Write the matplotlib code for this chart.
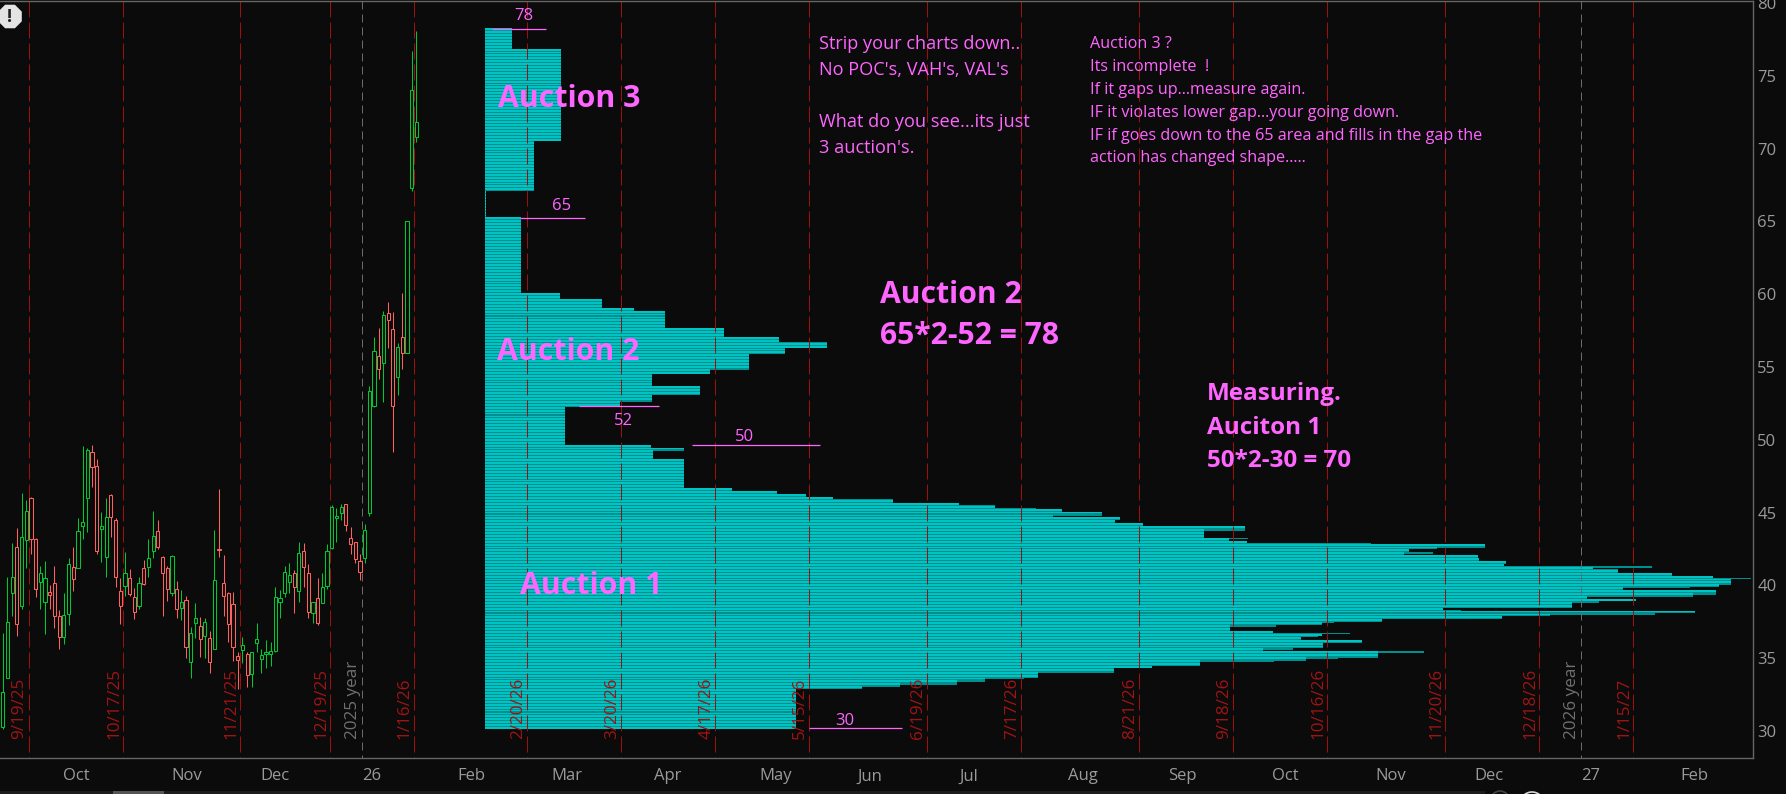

import matplotlib
matplotlib.use("Agg")
import matplotlib.pyplot as plt
import numpy as np
from matplotlib.patches import RegularPolygon, Rectangle, Circle

plt.rcParams['font.family'] = ['Open Sans', 'DejaVu Sans']

W, H = 1786, 794
BG = '#0b0b0b'
GRID = '#666666'
PINK = '#ff66ff'
PX_BAR = 4.7  # pixels per bar

# candles, in order, bar -5.5 is the first one
candle_open = [30.27, 33.62, 39.45, 42.66, 38.61, 43.12, 45.98, 43.21, 40.25, 38.84, 39.52, 40.14, 37.9, 36.48, 38.01, 41.29, 41.17, 44.1, 45.98, 49.14, 48.18, 43.9, 41.97, 46.19, 44.47, 39.64, 39.98, 40.53, 39.18, 38.61, 41.17, 41.29, 42.38, 43.71, 41.93, 41.17, 39.45, 39.73, 38.42, 38.97, 34.76, 37.44, 37.21, 36.52, 36.36, 35.61, 42.48, 40.14, 39.45, 38.7, 35.13, 35.58, 35.26, 33.89, 36.02, 34.97, 35.31, 35.31, 35.49, 38.88, 39.5, 40.25, 40.83, 39.64, 42.34, 40.83, 38.13, 39.11, 38.77, 39.98, 42.54, 44.65, 44.99, 45.57, 43.23, 42.96, 41.7, 41.86, 45.0, 52.35, 55.76, 55.3, 58.68, 57.58, 54.34, 57.03, 55.94, 67.33, 70.77]
candle_high = [36.73, 40.55, 42.89, 43.92, 46.33, 45.87, 46.05, 43.23, 41.33, 41.67, 40.03, 41.33, 38.31, 39.45, 41.86, 42.61, 44.61, 49.58, 49.42, 49.64, 48.66, 45.02, 45.98, 46.25, 44.65, 40.48, 42.27, 41.1, 39.8, 40.6, 41.74, 43.16, 45.09, 44.49, 42.02, 41.33, 42.06, 40.3, 39.68, 39.27, 37.12, 38.77, 37.85, 37.74, 36.89, 43.8, 46.6, 42.09, 39.57, 39.52, 35.45, 36.43, 35.45, 35.45, 37.39, 35.63, 36.25, 36.09, 39.87, 39.68, 41.33, 41.51, 41.06, 42.96, 42.89, 41.47, 38.88, 40.48, 40.83, 42.82, 45.52, 45.29, 45.57, 45.57, 44.03, 42.96, 42.16, 44.22, 53.7, 57.03, 57.65, 58.86, 59.48, 58.79, 56.62, 60.05, 65.04, 76.7, 78.09]
candle_low = [30.14, 33.62, 37.92, 36.55, 38.38, 41.17, 42.16, 39.23, 38.38, 36.66, 38.38, 37.07, 35.63, 35.97, 37.28, 39.64, 41.17, 43.19, 43.69, 46.74, 42.16, 41.63, 40.6, 43.35, 39.91, 37.35, 39.29, 39.29, 37.71, 38.38, 40.05, 40.6, 41.9, 42.5, 37.92, 38.95, 39.29, 37.78, 37.62, 35.03, 33.66, 36.41, 35.06, 34.99, 34.0, 35.61, 41.97, 37.92, 36.13, 34.83, 32.88, 34.69, 33.04, 33.04, 35.45, 34.0, 34.35, 34.46, 35.45, 37.74, 39.23, 39.45, 38.13, 38.88, 39.87, 37.78, 37.39, 37.28, 38.77, 39.77, 42.5, 43.0, 44.49, 43.74, 42.16, 41.56, 40.37, 41.56, 44.79, 52.23, 54.15, 52.62, 56.32, 49.19, 53.08, 54.84, 55.94, 67.1, 70.47]
candle_close = [32.68, 37.46, 40.6, 37.33, 43.3, 45.09, 43.21, 39.73, 40.83, 40.48, 39.36, 37.9, 36.48, 37.94, 41.45, 40.41, 43.71, 44.38, 49.28, 48.16, 42.36, 44.1, 44.67, 44.72, 40.6, 38.61, 40.83, 39.38, 38.19, 40.14, 40.12, 41.86, 43.37, 42.66, 40.83, 39.73, 41.99, 38.4, 38.84, 35.79, 36.71, 37.74, 36.29, 37.46, 34.71, 40.35, 42.41, 39.29, 37.33, 35.74, 34.9, 35.88, 33.87, 35.45, 36.34, 35.19, 35.4, 35.52, 39.18, 39.11, 40.9, 40.69, 39.87, 42.2, 41.29, 38.19, 38.84, 37.42, 39.87, 42.34, 45.36, 44.79, 45.36, 44.17, 42.82, 41.79, 40.94, 43.83, 53.33, 56.12, 54.84, 58.56, 58.22, 52.35, 56.39, 55.94, 65.04, 74.0, 71.84]

# volume profile, top of each block going down and its volume
profile_tops = [78.15, 76.77, 70.52, 67.09, 65.16, 60.08, 59.60, 58.98, 58.85, 57.68, 57.06, 56.72, 56.30, 55.89, 54.79, 54.52, 53.70, 53.08, 52.60, 52.25, 49.64, 49.44, 49.23, 48.68, 46.62, 46.41, 46.28, 46.07, 46.00, 45.93, 45.66, 45.59, 45.52, 45.32, 45.18, 45.04, 44.77, 44.70, 44.49, 44.22, 44.08, 44.01, 43.74, 43.26, 43.19, 43.05, 42.91, 42.84, 42.77, 42.57, 42.50, 42.29, 42.16, 42.09, 42.02, 41.88, 41.74, 41.61, 41.47, 41.33, 41.19, 41.13, 41.06, 40.85, 40.78, 40.65, 40.58, 40.51, 40.44, 40.37, 40.03, 39.89, 39.82, 39.68, 39.55, 39.34, 39.20, 39.07, 38.93, 38.79, 38.45, 38.31, 38.24, 38.13, 37.97, 37.90, 37.81, 37.67, 37.49, 37.42, 37.28, 37.14, 36.87, 36.73, 36.66, 36.52, 36.46, 36.25, 36.18, 36.04, 35.70, 35.56, 35.49, 35.36, 35.01, 34.95, 34.81, 34.74, 34.46, 34.33, 33.98, 33.64, 33.57, 33.36, 33.16, 33.02, 32.88]
profile_vols = [27, 76, 49, 1, 36, 75, 117, 149, 180, 239, 294, 342, 300, 264, 225, 167, 215, 167, 135, 80, 166, 199, 168, 199, 247, 292, 321, 332, 348, 408, 439, 474, 510, 551, 577, 617, 568, 635, 630, 658, 683, 760, 719, 763, 744, 762, 886, 977, 1000, 952, 924, 948, 919, 967, 993, 959, 994, 1021, 1019, 1167, 1108, 1133, 1133, 1160, 1187, 1208, 1228, 1266, 1228, 1246, 1234, 1205, 1138, 1187, 1231, 1208, 1102, 1151, 1114, 1087, 958, 976, 1210, 1170, 1065, 985, 1017, 897, 849, 837, 791, 745, 788, 865, 837, 833, 816, 854, 877, 838, 808, 778, 939, 893, 853, 821, 789, 715, 667, 629, 553, 539, 500, 472, 415, 377, 311]
profile_floor = 30.14
profile_start = 97.1  # bar where the profile begins

expiry_x = [0, 20.1, 45, 64.2, 82, 106.1, 126.1, 146.1, 166.1, 191.2, 211.2, 236.3, 256.3, 276.3, 301.4, 321.4, 341.4]
expiry_labels = ['9/19/25', '10/17/25', '11/21/25', '12/19/25', '1/16/26', '2/20/26', '3/20/26', '4/17/26', '5/15/26', '6/19/26', '7/17/26', '8/21/26', '9/18/26', '10/16/26', '11/20/26', '12/18/26', '1/15/27']
year_x = [71, 330.4]
year_labels = ['2025 year', '2026 year']

month_x = [10.1, 33.7, 52.4, 73.1, 94.3, 114.5, 136, 159, 179, 200, 224.3, 245.4, 267.3, 289.9, 310.7, 332.4, 354.5]
month_labels = ['Oct', 'Nov', 'Dec', '26', 'Feb', 'Mar', 'Apr', 'May', 'Jun', 'Jul', 'Aug', 'Sep', 'Oct', 'Nov', 'Dec', '27', 'Feb']
price_ticks = [30, 35, 40, 45, 50, 55, 60, 65, 70, 75, 80]

# the hand drawn measuring lines
level_prices = [78.21, 65.23, 52.32, 49.64, 30.2]
level_from = [98.6, 104.6, 117.1, 141.2, 166]
level_to = [110.1, 118.4, 134.2, 168.4, 185.8]

fig = plt.figure(figsize=(W / 100, H / 100), dpi=100, facecolor=BG)
ax = fig.add_axes([0, (H - 758) / H, 1753 / W, 757 / H], facecolor=BG)
ax.set_xlim(-28.6 / PX_BAR, (1753 - 28.6) / PX_BAR)
ax.set_ylim(28.146, 80.14)

# profile first, it sits under everything
tops = np.array(profile_tops)
bottoms = np.append(tops[1:], profile_floor)
vols = np.array(profile_vols, dtype=float) / PX_BAR
ax.barh(bottoms, vols, height=tops - bottoms, left=profile_start, align='edge',
        color='#008f8f', linewidth=0, antialiased=False, zorder=1)
rows = np.arange(profile_floor, profile_tops[0], 0.2)
row_vol = vols[np.searchsorted(-tops, -rows) - 1]
ax.barh(rows, row_vol, height=0.13, left=profile_start, align='edge',
        color='#00c4c4', linewidth=0, antialiased=False, zorder=1.1)

# expiration lines
for x, lab in zip(expiry_x, expiry_labels):
    ax.plot([x, x], [80.14, 28.146], color='#a00f0f', lw=0.72, dashes=(16, 5), zorder=2)
    ax.annotate(lab, xy=(x, 29.42), xytext=(-1, 0), textcoords='offset pixels', rotation=90,
                ha='right', va='bottom', color='#a01414', fontsize=12.3, zorder=6)
for x, lab in zip(year_x, year_labels):
    ax.plot([x, x], [80.14, 28.146], color='#6a6a6a', lw=0.72, dashes=(8, 5), zorder=2)
    ax.annotate(lab, xy=(x, 29.42), xytext=(-1, 0), textcoords='offset pixels', rotation=90,
                ha='right', va='bottom', color='#707070', fontsize=12.3, zorder=6)

# candles, hollow bodies
for i in range(len(candle_open)):
    x = i - 5.5
    o, h, l, c = candle_open[i], candle_high[i], candle_low[i], candle_close[i]
    col = '#00c832' if c >= o else '#ff6060'
    ax.plot([x, x], [max(o, c), h], color=col, lw=0.75, solid_capstyle='butt', zorder=3)
    ax.plot([x, x], [l, min(o, c)], color=col, lw=0.75, solid_capstyle='butt', zorder=3)
    ax.add_patch(Rectangle((x - 0.33, min(o, c)), 0.66, abs(c - o), facecolor=BG,
                           edgecolor=col, lw=0.75, zorder=3.5))

for p, a, b in zip(level_prices, level_from, level_to):
    ax.plot([a, b], [p, p], color=PINK, lw=0.9, solid_capstyle='butt', zorder=5)

for s in ['left']:
    ax.spines[s].set_visible(False)
for s in ['top', 'right', 'bottom']:
    ax.spines[s].set_color(GRID)
    ax.spines[s].set_linewidth(1.0)
ax.yaxis.tick_right()
ax.set_yticks(price_ticks)
ax.set_yticklabels([str(v) for v in price_ticks])
ax.set_xticks(month_x)
ax.set_xticklabels(month_labels)
ax.tick_params(axis='both', length=0, labelcolor='#9a9a9a', labelsize=12)
ax.tick_params(axis='x', pad=7.5)
ax.tick_params(axis='y', pad=3)


def label(x, y, s, size, bold=False, **kw):
    fig.text(x / W, 1 - y / H, s, color=PINK, fontsize=size, va='baseline', zorder=8,
             fontweight='bold' if bold else 'normal', **kw)


# big bold notes
label(498, 107, 'Auction 3', 21.8, True)
label(497, 360, 'Auction 2', 21.8, True)
label(520, 594, 'Auction 1', 21.8, True)
label(880, 303, 'Auction 2', 21.7, True)
label(880, 344, '65*2-52 = 78', 21.7, True)
label(1207, 400, 'Measuring.', 17.5, True)
label(1207, 434, 'Auciton 1', 17.5, True)
label(1207, 467, '50*2-30 = 70', 17.5, True)

# level numbers
label(524, 20, '78', 12, ha='center')
label(562, 210, '65', 12, ha='center')
label(623, 425, '52', 12, ha='center')
label(745, 441, '50', 12, ha='center')
label(845, 725, '30', 12, ha='center')

note_left = ['Strip your charts down..', "No POC's, VAH's, VAL's", 'What do you see...its just', "3 auction's."]
note_left_y = [49, 75, 127, 153]
for s, y in zip(note_left, note_left_y):
    label(819, y, s, 13.1)

note_right = ['Auction 3 ?', 'Its incomplete  !', 'If it gaps up...measure again.',
              'IF it violates lower gap...your going down.',
              'IF if goes down to the 65 area and fills in the gap the',
              'action has changed shape.....']
note_right_y = [48, 71, 94, 117, 140, 162]
for s, y in zip(note_right, note_right_y):
    label(1090, y, s, 11.6)

# window bits: alert badge and the scrollbar strip at the very bottom
chrome = fig.add_axes([0, 0, 1, 1], facecolor='none', zorder=9)
chrome.set_xlim(0, W)
chrome.set_ylim(H, 0)
chrome.axis('off')
chrome.add_patch(RegularPolygon((10, 16.5), 8, radius=12, orientation=np.pi / 8, color='#e4e4e4'))
chrome.text(9.5, 17, '!', color='#222222', fontsize=13, fontweight='bold', ha='center', va='center')
chrome.add_patch(Rectangle((0, 791), 1485, 3, color='#1c1c1c', lw=0))
chrome.add_patch(Rectangle((113, 791), 51, 3, color='#555555', lw=0))
chrome.add_patch(Circle((1500, 800), 9, facecolor='none', edgecolor='#444444', lw=1.2))
chrome.add_patch(Circle((1532, 804), 12, facecolor='none', edgecolor='#d8d8d8', lw=1.2))

fig.savefig('out.png', dpi=100, facecolor=BG)
